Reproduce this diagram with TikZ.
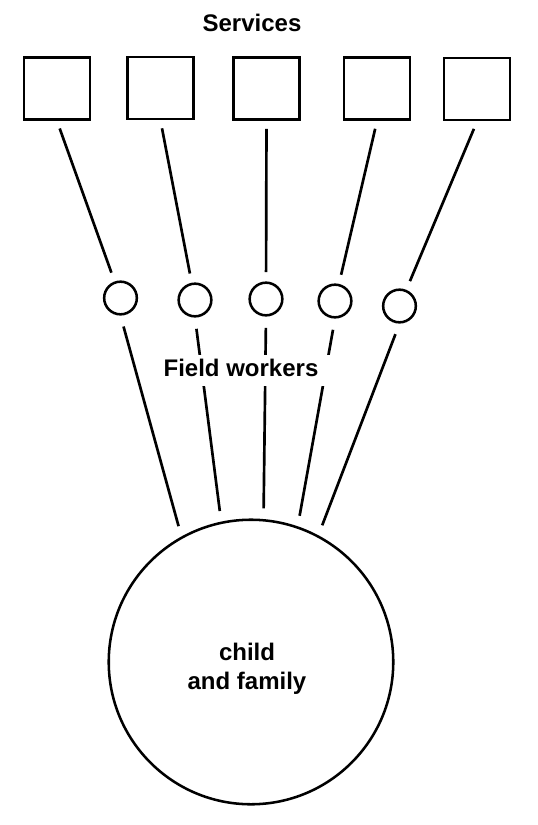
\documentclass[tikz,border=0pt]{standalone}
\usepackage{fontspec}
\setmainfont{Liberation Sans}
\begin{document}
\begin{tikzpicture}[x=0.75pt, y=-0.75pt,
    service/.style={rectangle, draw, line width=2pt, minimum width=49.7pt, minimum height=46.7pt, inner sep=0pt},
    worker/.style={circle, draw, line width=1.9pt, minimum size=24.5pt, inner sep=0pt},
    bigcircle/.style={circle, draw, line width=1.9pt, minimum size=213.4pt, inner sep=0pt},
    uplink/.style={line width=2pt, shorten >= 7pt, shorten <= 6pt},
    downlink/.style={line width=2pt, shorten >= 8pt, shorten <= 8.5pt},
    heading/.style={font=\bfseries\fontsize{18pt}{21.75pt}\selectfont, inner sep=0pt}]

    \useasboundingbox (0,0) rectangle (538,825);

    \node [heading, anchor=base] (services) at (252,31) {Services};

    \node [service] (s1) at (57,88.5) {};
    \node [service] (s2) at (160.5,88) {};
    \node [service] (s3) at (266.5,88.5) {};
    \node [service] (s4) at (377,88.5) {};
    \node [service] (s5) at (477,89) {};

    \node [worker] (w1) at (120.5,298) {};
    \node [worker] (w2) at (195,300) {};
    \node [worker] (w3) at (266,299) {};
    \node [worker] (w4) at (335,301) {};
    \node [worker] (w5) at (399.5,306) {};

    \node [bigcircle] (family) at (251,662) {};
    \node [heading, align=center] (familytext) at (247,669) {child\\and family};

    \draw[uplink] (s1.south) -- (w1);
    \draw[uplink] (s2.south) -- (w2);
    \draw[uplink] (s3.south) -- (w3);
    \draw[uplink] (s4.south) -- (w4);
    \draw[uplink] (s5.south) -- (w5);

    \draw[downlink] (w1.south) -- (family.119);
    \draw[downlink] (w2.south) -- (family.102);
    \draw[downlink] (w3.south) -- (family.85);
    \draw[downlink] (w4.south) -- (family.71);
    \draw[downlink] (w5.south) -- (family.62);

    \node [heading, fill=white, inner xsep=10.5pt, inner ysep=3pt, text depth=4.5pt, anchor=base] (fieldtext) at (241,376) {Field workers};

\end{tikzpicture}
\end{document}
